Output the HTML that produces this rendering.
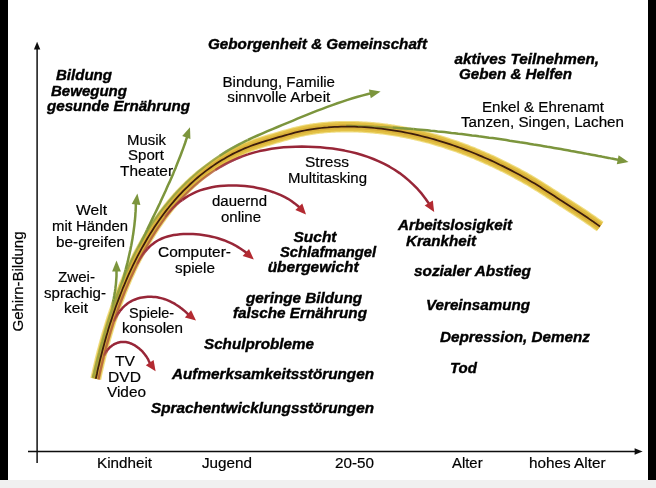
<!DOCTYPE html>
<html lang="de"><head><meta charset="utf-8"><title>Gehirn-Bildung</title>
<style>
html,body{margin:0;padding:0;background:#f0f0f0;}
body{width:656px;height:488px;overflow:hidden;position:relative;}
svg{position:absolute;left:0;top:0;display:block;}
text{font-family:"Liberation Sans",Arial,Helvetica,sans-serif;font-size:15.2px;fill:#000;stroke:#000;stroke-width:0.2px;}
.bi{font-weight:bold;font-style:italic;stroke-width:0.4px;}
</style></head><body>
<svg width="656" height="488" viewBox="0 0 656 488">
<rect x="0" y="0" width="656" height="480" fill="#000"/>
<rect x="8" y="0" width="640" height="480" fill="#fff"/>
<rect x="0" y="480" width="656" height="8" fill="#f0f0f0"/>
<defs><filter id="soft" x="0" y="0" width="656" height="488" filterUnits="userSpaceOnUse"><feGaussianBlur stdDeviation="0.45"/></filter></defs>
<g filter="url(#soft)">

<path d="M37.1,48 V463" stroke="#111" stroke-width="1.5" fill="none"/>
<path d="M37.1,41.8 L40.3,49.6 H33.9 z" fill="#111"/>
<path d="M28,451.5 H636" stroke="#111" stroke-width="1.5" fill="none"/>
<path d="M642.6,451.5 L634.6,448.3 V454.7 z" fill="#111"/>
<path d="M90.4,377.7 L91.1,374.4 L91.5,372.8 L91.8,371.2 L92.2,369.7 L92.5,368.1 L92.9,366.5 L93.2,364.9 L93.6,363.4 L94.0,361.8 L94.4,360.2 L94.7,358.6 L95.1,357.0 L95.5,355.4 L95.9,353.8 L96.3,352.2 L96.7,350.6 L97.1,349.0 L97.6,347.4 L98.0,345.8 L98.4,344.2 L98.9,342.5 L99.3,340.9 L99.8,339.3 L100.2,337.7 L100.7,336.1 L101.1,334.5 L101.6,332.8 L102.1,331.2 L102.6,329.6 L103.1,328.0 L103.6,326.3 L104.1,324.7 L104.6,323.1 L105.1,321.4 L105.6,319.8 L106.1,318.2 L106.6,316.6 L107.2,314.9 L107.7,313.3 L108.3,311.7 L108.8,310.1 L109.4,308.4 L110.0,306.8 L110.5,305.2 L111.1,303.5 L111.7,301.9 L112.3,300.3 L112.9,298.7 L113.5,297.1 L114.1,295.4 L114.7,293.8 L115.3,292.2 L116.0,290.6 L116.6,289.0 L117.3,287.4 L117.9,285.8 L118.6,284.1 L119.2,282.5 L119.9,280.9 L120.6,279.3 L121.3,277.7 L121.9,276.1 L122.6,274.5 L123.3,273.0 L124.1,271.4 L124.8,269.8 L125.5,268.2 L126.2,266.6 L127.0,265.1 L127.7,263.5 L128.5,261.9 L129.2,260.4 L130.0,258.8 L130.8,257.2 L131.6,255.7 L132.3,254.1 L133.1,252.6 L133.9,251.1 L134.7,249.5 L135.6,248.0 L136.4,246.5 L137.2,245.0 L138.1,243.4 L138.9,241.9 L139.8,240.4 L140.6,238.9 L141.5,237.4 L142.4,235.9 L143.3,234.5 L144.2,233.0 L145.1,231.5 L146.0,230.0 L146.9,228.6 L147.8,227.1 L148.7,225.7 L149.7,224.2 L150.6,222.8 L151.6,221.4 L152.5,220.0 L153.5,218.6 L154.5,217.1 L155.5,215.7 L156.5,214.4 L157.5,213.0 L158.5,211.6 L159.5,210.2 L160.5,208.9 L161.6,207.5 L162.6,206.2 L163.7,204.8 L164.7,203.5 L165.8,202.2 L166.9,200.8 L168.0,199.5 L169.1,198.2 L170.2,197.0 L171.3,195.7 L172.4,194.4 L173.5,193.1 L174.7,191.9 L175.8,190.6 L177.0,189.4 L178.1,188.2 L179.3,187.0 L180.5,185.8 L181.7,184.6 L182.9,183.4 L184.1,182.2 L185.3,181.0 L186.5,179.9 L187.8,178.7 L189.0,177.6 L190.2,176.5 L191.5,175.4 L192.8,174.3 L194.1,173.2 L195.4,172.1 L196.6,171.0 L198.0,170.0 L199.3,168.9 L200.6,167.9 L201.9,166.9 L203.3,165.9 L204.6,164.9 L206.0,163.9 L207.3,162.9 L208.7,161.9 L210.1,161.0 L211.5,160.0 L212.9,159.1 L214.3,158.2 L215.7,157.3 L217.1,156.4 L218.5,155.5 L220.0,154.7 L221.4,153.8 L222.8,153.0 L224.3,152.1 L225.7,151.3 L227.2,150.5 L228.7,149.7 L230.2,148.9 L231.6,148.2 L233.1,147.4 L234.6,146.7 L236.1,146.0 L237.7,145.3 L239.2,144.6 L240.7,143.9 L242.2,143.3 L243.7,142.6 L245.3,142.0 L246.8,141.4 L248.4,140.8 L249.9,140.2 L251.5,139.7 L253.1,139.1 L254.6,138.6 L256.2,138.1 L257.8,137.5 L259.4,137.0 L261.0,136.5 L262.5,136.0 L264.1,135.6 L265.7,135.1 L267.4,134.6 L269.0,134.1 L270.6,133.6 L272.2,133.2 L273.8,132.7 L275.4,132.2 L277.1,131.7 L278.7,131.3 L280.4,130.8 L282.0,130.3 L283.6,129.8 L285.3,129.4 L286.9,128.9 L288.6,128.4 L290.3,128.0 L291.9,127.6 L293.6,127.1 L295.2,126.7 L296.9,126.3 L298.6,125.9 L300.3,125.5 L301.9,125.2 L303.6,124.8 L305.3,124.5 L307.0,124.2 L308.7,123.9 L310.4,123.6 L312.0,123.4 L313.7,123.1 L315.4,122.9 L317.1,122.7 L318.8,122.5 L320.5,122.3 L322.2,122.1 L323.9,121.9 L325.6,121.8 L327.3,121.7 L329.0,121.5 L330.8,121.4 L332.5,121.3 L334.2,121.2 L335.9,121.1 L337.6,121.1 L339.3,121.0 L341.0,121.0 L342.7,120.9 L344.4,120.9 L346.1,120.9 L347.9,120.9 L349.6,120.9 L351.3,120.9 L353.0,121.0 L354.7,121.0 L356.4,121.1 L358.1,121.1 L359.8,121.2 L361.6,121.3 L363.3,121.4 L365.0,121.5 L366.7,121.6 L368.4,121.7 L370.1,121.8 L371.8,122.0 L373.5,122.1 L375.2,122.3 L376.9,122.4 L378.6,122.6 L380.3,122.8 L382.1,123.0 L383.8,123.2 L385.5,123.4 L387.2,123.6 L388.9,123.9 L390.6,124.1 L392.3,124.4 L394.0,124.6 L395.7,124.9 L397.4,125.2 L399.0,125.5 L400.7,125.7 L402.4,126.1 L404.1,126.4 L405.8,126.7 L407.5,127.0 L409.2,127.4 L410.9,127.7 L412.5,128.1 L414.2,128.4 L415.9,128.8 L417.6,129.2 L419.2,129.5 L420.9,129.9 L422.6,130.3 L424.2,130.8 L425.9,131.2 L427.6,131.6 L429.2,132.0 L430.9,132.5 L432.5,132.9 L434.2,133.4 L435.8,133.8 L437.5,134.3 L439.1,134.8 L440.8,135.3 L442.4,135.8 L444.1,136.3 L445.7,136.8 L447.3,137.3 L449.0,137.8 L450.6,138.4 L452.2,138.9 L453.8,139.4 L455.4,140.0 L457.1,140.6 L458.7,141.1 L460.3,141.7 L461.9,142.3 L463.5,142.8 L465.1,143.4 L466.7,144.0 L468.3,144.6 L469.8,145.3 L471.4,145.9 L473.0,146.5 L474.6,147.1 L476.1,147.8 L477.7,148.4 L479.3,149.0 L480.8,149.7 L482.4,150.4 L484.0,151.0 L485.5,151.7 L487.1,152.4 L488.6,153.1 L490.1,153.7 L491.7,154.4 L493.2,155.1 L494.7,155.8 L496.3,156.5 L497.8,157.3 L499.3,158.0 L500.8,158.7 L502.3,159.4 L503.8,160.2 L505.4,160.9 L506.9,161.7 L508.4,162.4 L509.9,163.2 L511.3,163.9 L512.8,164.7 L514.3,165.5 L515.8,166.2 L517.3,167.0 L518.8,167.8 L520.2,168.6 L521.7,169.4 L523.2,170.2 L524.7,171.0 L526.1,171.8 L527.6,172.6 L529.0,173.5 L530.5,174.3 L531.9,175.1 L533.4,176.0 L534.8,176.8 L536.3,177.7 L537.7,178.6 L539.1,179.4 L540.6,180.3 L542.0,181.2 L543.4,182.1 L544.8,183.0 L546.3,183.9 L547.7,184.8 L549.1,185.7 L550.5,186.6 L551.9,187.5 L553.3,188.4 L554.7,189.3 L556.1,190.2 L557.5,191.1 L558.9,192.0 L560.3,193.0 L561.7,193.9 L563.1,194.7 L564.5,195.6 L565.9,196.5 L567.2,197.4 L568.6,198.3 L570.0,199.2 L571.4,200.1 L572.7,200.9 L574.1,201.8 L575.5,202.7 L576.8,203.6 L578.2,204.4 L579.5,205.3 L580.9,206.2 L582.2,207.1 L583.6,208.0 L584.9,208.8 L586.3,209.7 L587.6,210.6 L588.9,211.5 L590.3,212.4 L591.6,213.4 L592.9,214.3 L594.3,215.2 L595.6,216.1 L596.9,217.0 L598.2,218.0 L599.6,218.9 L600.9,219.8 L602.2,220.8 L603.5,221.7 L596.6,231.3 L595.3,230.3 L594.0,229.4 L592.7,228.5 L591.4,227.6 L590.1,226.6 L588.8,225.7 L587.5,224.8 L586.1,223.9 L584.8,223.0 L583.5,222.1 L582.2,221.2 L580.9,220.3 L579.6,219.4 L578.2,218.5 L576.9,217.7 L575.6,216.8 L574.2,215.9 L572.9,215.0 L571.6,214.2 L570.2,213.3 L568.9,212.4 L567.5,211.6 L566.2,210.7 L564.9,209.8 L563.5,209.0 L562.2,208.1 L560.8,207.2 L559.4,206.4 L558.1,205.5 L556.7,204.6 L555.4,203.7 L554.0,202.8 L552.6,201.9 L551.3,201.1 L549.9,200.2 L548.5,199.3 L547.1,198.4 L545.7,197.5 L544.4,196.6 L543.0,195.7 L541.6,194.8 L540.2,193.9 L538.8,193.0 L537.4,192.1 L536.0,191.3 L534.6,190.4 L533.2,189.5 L531.8,188.7 L530.4,187.8 L529.0,187.0 L527.6,186.1 L526.2,185.3 L524.7,184.5 L523.3,183.7 L521.9,182.8 L520.5,182.0 L519.0,181.2 L517.6,180.5 L516.2,179.7 L514.7,178.9 L513.3,178.1 L511.8,177.3 L510.4,176.6 L508.9,175.8 L507.5,175.1 L506.0,174.3 L504.6,173.6 L503.1,172.8 L501.7,172.1 L500.2,171.4 L498.7,170.6 L497.2,169.9 L495.8,169.2 L494.3,168.5 L492.8,167.8 L491.3,167.1 L489.8,166.4 L488.4,165.7 L486.9,165.0 L485.4,164.4 L483.9,163.7 L482.4,163.0 L480.9,162.4 L479.4,161.7 L477.8,161.1 L476.3,160.4 L474.8,159.8 L473.3,159.1 L471.8,158.5 L470.2,157.9 L468.7,157.3 L467.2,156.7 L465.6,156.1 L464.1,155.5 L462.6,154.9 L461.0,154.3 L459.5,153.7 L457.9,153.2 L456.4,152.6 L454.8,152.1 L453.2,151.5 L451.7,151.0 L450.1,150.4 L448.5,149.9 L447.0,149.4 L445.4,148.9 L443.8,148.3 L442.2,147.8 L440.6,147.3 L439.1,146.9 L437.5,146.4 L435.9,145.9 L434.3,145.4 L432.7,145.0 L431.1,144.5 L429.5,144.1 L427.9,143.6 L426.3,143.2 L424.7,142.8 L423.1,142.4 L421.4,142.0 L419.8,141.6 L418.2,141.2 L416.6,140.8 L415.0,140.4 L413.4,140.1 L411.7,139.7 L410.1,139.3 L408.5,139.0 L406.9,138.7 L405.2,138.3 L403.6,138.0 L402.0,137.7 L400.4,137.4 L398.7,137.1 L397.1,136.8 L395.5,136.5 L393.8,136.3 L392.2,136.0 L390.5,135.8 L388.9,135.5 L387.3,135.3 L385.6,135.0 L384.0,134.8 L382.3,134.6 L380.7,134.4 L379.1,134.2 L377.4,134.1 L375.8,133.9 L374.1,133.7 L372.5,133.6 L370.8,133.4 L369.2,133.3 L367.6,133.2 L365.9,133.0 L364.3,132.9 L362.6,132.8 L361.0,132.7 L359.3,132.7 L357.7,132.6 L356.0,132.5 L354.4,132.5 L352.8,132.4 L351.1,132.4 L349.5,132.4 L347.8,132.4 L346.2,132.4 L344.5,132.4 L342.9,132.4 L341.3,132.4 L339.6,132.5 L338.0,132.5 L336.3,132.6 L334.7,132.7 L333.1,132.8 L331.4,132.8 L329.8,133.0 L328.2,133.1 L326.5,133.2 L324.9,133.3 L323.3,133.5 L321.6,133.7 L320.0,133.8 L318.4,134.0 L316.8,134.2 L315.1,134.5 L313.5,134.7 L311.9,135.0 L310.3,135.2 L308.7,135.5 L307.1,135.8 L305.5,136.1 L303.9,136.4 L302.3,136.8 L300.7,137.1 L299.1,137.5 L297.5,137.9 L295.9,138.3 L294.3,138.7 L292.7,139.1 L291.1,139.6 L289.5,140.0 L287.9,140.4 L286.4,140.9 L284.8,141.3 L283.2,141.8 L281.7,142.2 L280.1,142.7 L278.6,143.2 L277.0,143.6 L275.5,144.1 L273.9,144.5 L272.4,145.0 L270.8,145.4 L269.3,145.9 L267.8,146.3 L266.3,146.8 L264.7,147.3 L263.2,147.7 L261.7,148.2 L260.2,148.7 L258.7,149.2 L257.2,149.7 L255.7,150.2 L254.2,150.7 L252.8,151.3 L251.3,151.8 L249.8,152.4 L248.4,153.0 L246.9,153.6 L245.5,154.2 L244.0,154.8 L242.6,155.5 L241.1,156.2 L239.7,156.8 L238.3,157.5 L236.9,158.2 L235.5,158.9 L234.1,159.7 L232.7,160.4 L231.3,161.2 L229.9,162.0 L228.5,162.7 L227.2,163.5 L225.8,164.3 L224.4,165.2 L223.1,166.0 L221.8,166.8 L220.4,167.7 L219.1,168.5 L217.8,169.4 L216.5,170.3 L215.2,171.2 L213.9,172.1 L212.6,173.0 L211.3,174.0 L210.0,174.9 L208.8,175.9 L207.5,176.8 L206.2,177.8 L205.0,178.8 L203.8,179.8 L202.5,180.8 L201.3,181.8 L200.1,182.8 L198.9,183.9 L197.7,184.9 L196.5,186.0 L195.4,187.0 L194.2,188.1 L193.0,189.2 L191.9,190.3 L190.7,191.4 L189.6,192.5 L188.5,193.7 L187.4,194.8 L186.2,196.0 L185.1,197.1 L184.0,198.3 L182.9,199.5 L181.9,200.7 L180.8,201.9 L179.7,203.1 L178.7,204.3 L177.6,205.5 L176.6,206.8 L175.5,208.0 L174.5,209.3 L173.5,210.5 L172.5,211.8 L171.5,213.1 L170.5,214.4 L169.5,215.6 L168.5,216.9 L167.5,218.3 L166.5,219.6 L165.6,220.9 L164.6,222.2 L163.7,223.6 L162.7,224.9 L161.8,226.3 L160.9,227.6 L159.9,229.0 L159.0,230.4 L158.1,231.8 L157.2,233.2 L156.3,234.6 L155.4,236.0 L154.6,237.4 L153.7,238.8 L152.8,240.2 L152.0,241.7 L151.1,243.1 L150.3,244.5 L149.5,246.0 L148.6,247.4 L147.8,248.9 L147.0,250.3 L146.2,251.8 L145.4,253.3 L144.6,254.8 L143.8,256.3 L143.0,257.7 L142.3,259.2 L141.5,260.7 L140.7,262.2 L140.0,263.7 L139.2,265.3 L138.5,266.8 L137.8,268.3 L137.0,269.8 L136.3,271.3 L135.6,272.9 L134.9,274.4 L134.2,276.0 L133.5,277.5 L132.8,279.0 L132.1,280.6 L131.5,282.1 L130.8,283.7 L130.1,285.3 L129.5,286.8 L128.8,288.4 L128.2,289.9 L127.6,291.5 L126.9,293.1 L126.3,294.7 L125.7,296.2 L125.1,297.8 L124.5,299.4 L123.9,301.0 L123.3,302.5 L122.7,304.1 L122.1,305.7 L121.5,307.3 L121.0,308.9 L120.4,310.5 L119.9,312.1 L119.3,313.7 L118.8,315.2 L118.2,316.8 L117.7,318.4 L117.2,320.0 L116.6,321.6 L116.1,323.2 L115.6,324.8 L115.1,326.4 L114.6,328.0 L114.1,329.6 L113.6,331.2 L113.2,332.8 L112.7,334.3 L112.2,335.9 L111.8,337.5 L111.3,339.1 L110.8,340.7 L110.4,342.3 L110.0,343.9 L109.5,345.5 L109.1,347.0 L108.7,348.6 L108.2,350.2 L107.8,351.8 L107.4,353.4 L107.0,354.9 L106.6,356.5 L106.2,358.1 L105.8,359.6 L105.5,361.2 L105.1,362.8 L104.7,364.3 L104.3,365.9 L104.0,367.4 L103.6,369.0 L103.3,370.5 L102.9,372.1 L102.6,373.6 L102.2,375.1 L101.9,376.7 L101.2,380.0 Z" fill="#f0de84"/>
<path d="M91.5,377.9 L92.2,374.6 L92.6,373.0 L92.9,371.5 L93.2,369.9 L93.6,368.3 L94.0,366.8 L94.3,365.2 L94.7,363.6 L95.0,362.0 L95.4,360.4 L95.8,358.9 L96.2,357.3 L96.6,355.7 L97.0,354.1 L97.4,352.5 L97.8,350.9 L98.2,349.3 L98.6,347.7 L99.1,346.1 L99.5,344.4 L99.9,342.8 L100.4,341.2 L100.8,339.6 L101.3,338.0 L101.7,336.4 L102.2,334.8 L102.7,333.1 L103.1,331.5 L103.6,329.9 L104.1,328.3 L104.6,326.7 L105.1,325.0 L105.6,323.4 L106.1,321.8 L106.6,320.2 L107.2,318.5 L107.7,316.9 L108.2,315.3 L108.8,313.7 L109.3,312.0 L109.9,310.4 L110.4,308.8 L111.0,307.2 L111.6,305.5 L112.1,303.9 L112.7,302.3 L113.3,300.7 L113.9,299.1 L114.5,297.4 L115.1,295.8 L115.7,294.2 L116.4,292.6 L117.0,291.0 L117.6,289.4 L118.3,287.8 L118.9,286.2 L119.6,284.6 L120.2,283.0 L120.9,281.4 L121.6,279.8 L122.3,278.2 L123.0,276.6 L123.6,275.0 L124.3,273.4 L125.1,271.8 L125.8,270.2 L126.5,268.7 L127.2,267.1 L128.0,265.5 L128.7,264.0 L129.5,262.4 L130.2,260.8 L131.0,259.3 L131.8,257.7 L132.5,256.2 L133.3,254.6 L134.1,253.1 L134.9,251.6 L135.7,250.0 L136.5,248.5 L137.4,247.0 L138.2,245.5 L139.0,244.0 L139.9,242.5 L140.7,241.0 L141.6,239.5 L142.4,238.0 L143.3,236.5 L144.2,235.0 L145.1,233.6 L146.0,232.1 L146.9,230.6 L147.8,229.2 L148.7,227.7 L149.7,226.3 L150.6,224.9 L151.5,223.4 L152.5,222.0 L153.4,220.6 L154.4,219.2 L155.4,217.8 L156.4,216.4 L157.4,215.0 L158.4,213.6 L159.4,212.2 L160.4,210.9 L161.4,209.5 L162.4,208.2 L163.5,206.8 L164.5,205.5 L165.6,204.2 L166.6,202.9 L167.7,201.6 L168.8,200.2 L169.9,199.0 L171.0,197.7 L172.1,196.4 L173.2,195.1 L174.3,193.9 L175.5,192.6 L176.6,191.4 L177.8,190.2 L178.9,188.9 L180.1,187.7 L181.3,186.5 L182.4,185.3 L183.6,184.2 L184.8,183.0 L186.0,181.8 L187.3,180.7 L188.5,179.6 L189.7,178.4 L191.0,177.3 L192.2,176.2 L193.5,175.1 L194.8,174.0 L196.1,172.9 L197.3,171.9 L198.6,170.8 L200.0,169.8 L201.3,168.8 L202.6,167.7 L203.9,166.7 L205.3,165.8 L206.6,164.8 L208.0,163.8 L209.3,162.8 L210.7,161.9 L212.1,161.0 L213.5,160.0 L214.9,159.1 L216.3,158.2 L217.7,157.3 L219.1,156.5 L220.5,155.6 L222.0,154.7 L223.4,153.9 L224.8,153.1 L226.3,152.3 L227.7,151.5 L229.2,150.7 L230.7,149.9 L232.2,149.2 L233.6,148.4 L235.1,147.7 L236.6,147.0 L238.1,146.3 L239.6,145.6 L241.1,144.9 L242.7,144.3 L244.2,143.6 L245.7,143.0 L247.3,142.4 L248.8,141.8 L250.3,141.3 L251.9,140.7 L253.5,140.1 L255.0,139.6 L256.6,139.1 L258.2,138.6 L259.7,138.1 L261.3,137.6 L262.9,137.1 L264.5,136.6 L266.1,136.1 L267.7,135.6 L269.3,135.2 L270.9,134.7 L272.5,134.2 L274.1,133.7 L275.7,133.3 L277.4,132.8 L279.0,132.3 L280.6,131.8 L282.3,131.4 L283.9,130.9 L285.5,130.4 L287.2,130.0 L288.8,129.5 L290.5,129.1 L292.1,128.6 L293.8,128.2 L295.5,127.8 L297.1,127.4 L298.8,127.0 L300.5,126.6 L302.1,126.3 L303.8,125.9 L305.5,125.6 L307.1,125.3 L308.8,125.0 L310.5,124.7 L312.2,124.5 L313.9,124.2 L315.6,124.0 L317.3,123.8 L318.9,123.6 L320.6,123.4 L322.3,123.2 L324.0,123.0 L325.7,122.9 L327.4,122.8 L329.1,122.6 L330.8,122.5 L332.5,122.4 L334.2,122.3 L335.9,122.2 L337.6,122.2 L339.3,122.1 L341.0,122.1 L342.7,122.0 L344.4,122.0 L346.1,122.0 L347.9,122.0 L349.6,122.0 L351.3,122.0 L353.0,122.1 L354.7,122.1 L356.4,122.2 L358.1,122.2 L359.8,122.3 L361.5,122.4 L363.2,122.5 L364.9,122.6 L366.6,122.7 L368.3,122.8 L370.0,122.9 L371.7,123.1 L373.4,123.2 L375.1,123.4 L376.8,123.5 L378.5,123.7 L380.2,123.9 L381.9,124.1 L383.6,124.3 L385.3,124.5 L387.0,124.7 L388.7,125.0 L390.4,125.2 L392.1,125.5 L393.8,125.7 L395.5,126.0 L397.2,126.3 L398.9,126.5 L400.5,126.8 L402.2,127.1 L403.9,127.4 L405.6,127.8 L407.3,128.1 L409.0,128.4 L410.6,128.8 L412.3,129.1 L414.0,129.5 L415.7,129.9 L417.3,130.2 L419.0,130.6 L420.7,131.0 L422.3,131.4 L424.0,131.8 L425.6,132.2 L427.3,132.7 L429.0,133.1 L430.6,133.5 L432.3,134.0 L433.9,134.4 L435.5,134.9 L437.2,135.4 L438.8,135.9 L440.5,136.3 L442.1,136.8 L443.7,137.3 L445.4,137.8 L447.0,138.4 L448.6,138.9 L450.2,139.4 L451.9,139.9 L453.5,140.5 L455.1,141.0 L456.7,141.6 L458.3,142.2 L459.9,142.7 L461.5,143.3 L463.1,143.9 L464.7,144.5 L466.3,145.1 L467.9,145.7 L469.4,146.3 L471.0,146.9 L472.6,147.5 L474.2,148.1 L475.7,148.8 L477.3,149.4 L478.9,150.1 L480.4,150.7 L482.0,151.4 L483.5,152.0 L485.1,152.7 L486.6,153.4 L488.1,154.1 L489.7,154.7 L491.2,155.4 L492.7,156.1 L494.3,156.8 L495.8,157.5 L497.3,158.3 L498.8,159.0 L500.3,159.7 L501.9,160.4 L503.4,161.2 L504.9,161.9 L506.4,162.6 L507.9,163.4 L509.4,164.1 L510.8,164.9 L512.3,165.7 L513.8,166.4 L515.3,167.2 L516.8,168.0 L518.3,168.8 L519.7,169.6 L521.2,170.4 L522.7,171.2 L524.1,172.0 L525.6,172.8 L527.0,173.6 L528.5,174.4 L529.9,175.2 L531.4,176.1 L532.8,176.9 L534.3,177.8 L535.7,178.6 L537.1,179.5 L538.6,180.4 L540.0,181.3 L541.4,182.1 L542.9,183.0 L544.3,183.9 L545.7,184.8 L547.1,185.7 L548.5,186.6 L549.9,187.5 L551.3,188.4 L552.7,189.3 L554.1,190.3 L555.5,191.2 L556.9,192.1 L558.3,193.0 L559.7,193.9 L561.1,194.8 L562.5,195.7 L563.9,196.6 L565.3,197.4 L566.6,198.3 L568.0,199.2 L569.4,200.1 L570.8,201.0 L572.1,201.8 L573.5,202.7 L574.8,203.6 L576.2,204.5 L577.6,205.3 L578.9,206.2 L580.3,207.1 L581.6,208.0 L583.0,208.9 L584.3,209.8 L585.6,210.6 L587.0,211.5 L588.3,212.4 L589.6,213.3 L591.0,214.3 L592.3,215.2 L593.6,216.1 L595.0,217.0 L596.3,217.9 L597.6,218.9 L598.9,219.8 L600.2,220.7 L601.5,221.7 L602.9,222.6 L597.2,230.4 L595.9,229.4 L594.6,228.5 L593.3,227.6 L592.0,226.7 L590.7,225.7 L589.4,224.8 L588.1,223.9 L586.8,223.0 L585.5,222.1 L584.1,221.2 L582.8,220.3 L581.5,219.4 L580.2,218.5 L578.9,217.6 L577.5,216.7 L576.2,215.9 L574.9,215.0 L573.5,214.1 L572.2,213.3 L570.8,212.4 L569.5,211.5 L568.2,210.7 L566.8,209.8 L565.5,208.9 L564.1,208.1 L562.8,207.2 L561.4,206.3 L560.0,205.4 L558.7,204.6 L557.3,203.7 L556.0,202.8 L554.6,201.9 L553.2,201.0 L551.8,200.1 L550.5,199.2 L549.1,198.3 L547.7,197.4 L546.3,196.5 L544.9,195.6 L543.6,194.7 L542.2,193.8 L540.8,193.0 L539.4,192.1 L538.0,191.2 L536.6,190.3 L535.2,189.4 L533.8,188.6 L532.4,187.7 L530.9,186.9 L529.5,186.0 L528.1,185.2 L526.7,184.3 L525.3,183.5 L523.8,182.7 L522.4,181.9 L521.0,181.1 L519.6,180.3 L518.1,179.5 L516.7,178.7 L515.2,177.9 L513.8,177.1 L512.4,176.4 L510.9,175.6 L509.5,174.8 L508.0,174.1 L506.5,173.3 L505.1,172.6 L503.6,171.8 L502.1,171.1 L500.7,170.4 L499.2,169.7 L497.7,168.9 L496.2,168.2 L494.8,167.5 L493.3,166.8 L491.8,166.1 L490.3,165.4 L488.8,164.7 L487.3,164.0 L485.8,163.4 L484.3,162.7 L482.8,162.0 L481.3,161.3 L479.8,160.7 L478.3,160.0 L476.8,159.4 L475.2,158.8 L473.7,158.1 L472.2,157.5 L470.6,156.9 L469.1,156.3 L467.6,155.7 L466.0,155.1 L464.5,154.5 L462.9,153.9 L461.4,153.3 L459.8,152.7 L458.3,152.1 L456.7,151.6 L455.2,151.0 L453.6,150.5 L452.0,149.9 L450.5,149.4 L448.9,148.9 L447.3,148.3 L445.7,147.8 L444.1,147.3 L442.6,146.8 L441.0,146.3 L439.4,145.8 L437.8,145.3 L436.2,144.9 L434.6,144.4 L433.0,143.9 L431.4,143.5 L429.8,143.0 L428.2,142.6 L426.6,142.2 L424.9,141.7 L423.3,141.3 L421.7,140.9 L420.1,140.5 L418.5,140.1 L416.9,139.7 L415.2,139.3 L413.6,139.0 L412.0,138.6 L410.4,138.3 L408.7,137.9 L407.1,137.6 L405.5,137.3 L403.8,136.9 L402.2,136.6 L400.6,136.3 L398.9,136.0 L397.3,135.7 L395.6,135.5 L394.0,135.2 L392.4,134.9 L390.7,134.7 L389.1,134.4 L387.4,134.2 L385.8,134.0 L384.1,133.7 L382.5,133.5 L380.8,133.3 L379.2,133.1 L377.5,133.0 L375.9,132.8 L374.2,132.6 L372.6,132.5 L370.9,132.3 L369.3,132.2 L367.6,132.1 L366.0,131.9 L364.3,131.8 L362.7,131.7 L361.0,131.6 L359.4,131.6 L357.7,131.5 L356.1,131.4 L354.4,131.4 L352.8,131.3 L351.1,131.3 L349.5,131.3 L347.8,131.3 L346.2,131.3 L344.5,131.3 L342.9,131.3 L341.2,131.3 L339.6,131.4 L337.9,131.4 L336.3,131.5 L334.7,131.6 L333.0,131.7 L331.4,131.7 L329.7,131.9 L328.1,132.0 L326.4,132.1 L324.8,132.2 L323.2,132.4 L321.5,132.6 L319.9,132.7 L318.3,132.9 L316.6,133.1 L315.0,133.4 L313.4,133.6 L311.8,133.9 L310.1,134.1 L308.5,134.4 L306.9,134.7 L305.3,135.0 L303.7,135.4 L302.1,135.7 L300.5,136.1 L298.8,136.4 L297.2,136.8 L295.6,137.2 L294.0,137.6 L292.5,138.1 L290.9,138.5 L289.3,138.9 L287.7,139.4 L286.1,139.8 L284.5,140.3 L283.0,140.7 L281.4,141.2 L279.8,141.6 L278.3,142.1 L276.7,142.6 L275.1,143.0 L273.6,143.5 L272.0,143.9 L270.5,144.4 L269.0,144.8 L267.4,145.3 L265.9,145.7 L264.4,146.2 L262.8,146.7 L261.3,147.2 L259.8,147.7 L258.3,148.2 L256.8,148.7 L255.3,149.2 L253.8,149.7 L252.3,150.3 L250.9,150.8 L249.4,151.4 L247.9,152.0 L246.5,152.6 L245.0,153.2 L243.5,153.9 L242.1,154.5 L240.7,155.2 L239.2,155.8 L237.8,156.5 L236.4,157.3 L235.0,158.0 L233.5,158.7 L232.1,159.5 L230.7,160.2 L229.4,161.0 L228.0,161.8 L226.6,162.6 L225.2,163.4 L223.9,164.2 L222.5,165.1 L221.2,165.9 L219.8,166.8 L218.5,167.6 L217.2,168.5 L215.8,169.4 L214.5,170.3 L213.2,171.2 L211.9,172.1 L210.6,173.1 L209.4,174.0 L208.1,175.0 L206.8,176.0 L205.6,176.9 L204.3,177.9 L203.1,178.9 L201.8,179.9 L200.6,181.0 L199.4,182.0 L198.2,183.0 L197.0,184.1 L195.8,185.1 L194.6,186.2 L193.5,187.3 L192.3,188.4 L191.1,189.5 L190.0,190.6 L188.8,191.8 L187.7,192.9 L186.6,194.0 L185.4,195.2 L184.3,196.4 L183.2,197.6 L182.1,198.7 L181.0,199.9 L180.0,201.1 L178.9,202.4 L177.8,203.6 L176.8,204.8 L175.7,206.1 L174.7,207.3 L173.6,208.6 L172.6,209.8 L171.6,211.1 L170.6,212.4 L169.6,213.7 L168.6,215.0 L167.6,216.3 L166.6,217.6 L165.6,218.9 L164.7,220.3 L163.7,221.6 L162.8,222.9 L161.8,224.3 L160.9,225.7 L159.9,227.0 L159.0,228.4 L158.1,229.8 L157.2,231.2 L156.3,232.6 L155.4,234.0 L154.5,235.4 L153.6,236.8 L152.8,238.2 L151.9,239.7 L151.0,241.1 L150.2,242.5 L149.3,244.0 L148.5,245.4 L147.7,246.9 L146.9,248.3 L146.0,249.8 L145.2,251.3 L144.4,252.8 L143.6,254.3 L142.8,255.7 L142.1,257.2 L141.3,258.7 L140.5,260.2 L139.8,261.7 L139.0,263.3 L138.2,264.8 L137.5,266.3 L136.8,267.8 L136.0,269.3 L135.3,270.9 L134.6,272.4 L133.9,274.0 L133.2,275.5 L132.5,277.0 L131.8,278.6 L131.1,280.1 L130.5,281.7 L129.8,283.3 L129.1,284.8 L128.5,286.4 L127.8,288.0 L127.2,289.5 L126.5,291.1 L125.9,292.7 L125.3,294.2 L124.7,295.8 L124.1,297.4 L123.4,299.0 L122.8,300.6 L122.3,302.2 L121.7,303.7 L121.1,305.3 L120.5,306.9 L119.9,308.5 L119.4,310.1 L118.8,311.7 L118.3,313.3 L117.7,314.9 L117.2,316.5 L116.6,318.1 L116.1,319.7 L115.6,321.3 L115.1,322.9 L114.6,324.5 L114.1,326.1 L113.6,327.7 L113.1,329.3 L112.6,330.8 L112.1,332.4 L111.6,334.0 L111.2,335.6 L110.7,337.2 L110.2,338.8 L109.8,340.4 L109.3,342.0 L108.9,343.6 L108.5,345.2 L108.0,346.8 L107.6,348.3 L107.2,349.9 L106.8,351.5 L106.4,353.1 L105.9,354.7 L105.5,356.2 L105.2,357.8 L104.8,359.4 L104.4,360.9 L104.0,362.5 L103.6,364.1 L103.3,365.6 L102.9,367.2 L102.5,368.7 L102.2,370.3 L101.8,371.8 L101.5,373.4 L101.2,374.9 L100.8,376.4 L100.1,379.7 Z" fill="#e3c144"/>
<path d="M93.6,378.3 L94.3,375.0 L94.7,373.5 L95.0,371.9 L95.3,370.4 L95.7,368.8 L96.0,367.2 L96.4,365.7 L96.8,364.1 L97.1,362.5 L97.5,360.9 L97.9,359.4 L98.3,357.8 L98.7,356.2 L99.1,354.6 L99.5,353.0 L99.9,351.4 L100.3,349.8 L100.7,348.2 L101.1,346.6 L101.6,345.0 L102.0,343.4 L102.4,341.8 L102.9,340.2 L103.3,338.6 L103.8,337.0 L104.3,335.4 L104.7,333.7 L105.2,332.1 L105.7,330.5 L106.2,328.9 L106.7,327.3 L107.1,325.7 L107.7,324.0 L108.2,322.4 L108.7,320.8 L109.2,319.2 L109.7,317.6 L110.3,316.0 L110.8,314.3 L111.3,312.7 L111.9,311.1 L112.4,309.5 L113.0,307.9 L113.6,306.3 L114.2,304.6 L114.7,303.0 L115.3,301.4 L115.9,299.8 L116.5,298.2 L117.1,296.6 L117.7,295.0 L118.4,293.4 L119.0,291.8 L119.6,290.2 L120.3,288.6 L120.9,287.0 L121.6,285.4 L122.2,283.8 L122.9,282.2 L123.5,280.6 L124.2,279.0 L124.9,277.4 L125.6,275.9 L126.3,274.3 L127.0,272.7 L127.7,271.1 L128.4,269.6 L129.2,268.0 L129.9,266.4 L130.6,264.9 L131.4,263.3 L132.1,261.8 L132.9,260.2 L133.7,258.7 L134.4,257.2 L135.2,255.6 L136.0,254.1 L136.8,252.6 L137.6,251.0 L138.4,249.5 L139.2,248.0 L140.1,246.5 L140.9,245.0 L141.7,243.5 L142.6,242.0 L143.4,240.5 L144.3,239.1 L145.2,237.6 L146.0,236.1 L146.9,234.7 L147.8,233.2 L148.7,231.8 L149.6,230.3 L150.5,228.9 L151.4,227.4 L152.4,226.0 L153.3,224.6 L154.2,223.2 L155.2,221.8 L156.2,220.4 L157.1,219.0 L158.1,217.6 L159.1,216.2 L160.1,214.9 L161.1,213.5 L162.1,212.2 L163.1,210.8 L164.1,209.5 L165.2,208.1 L166.2,206.8 L167.2,205.5 L168.3,204.2 L169.4,202.9 L170.4,201.6 L171.5,200.3 L172.6,199.1 L173.7,197.8 L174.8,196.5 L175.9,195.3 L177.0,194.1 L178.2,192.8 L179.3,191.6 L180.4,190.4 L181.6,189.2 L182.8,188.0 L183.9,186.9 L185.1,185.7 L186.3,184.5 L187.5,183.4 L188.7,182.2 L189.9,181.1 L191.2,180.0 L192.4,178.9 L193.6,177.8 L194.9,176.7 L196.1,175.6 L197.4,174.6 L198.7,173.5 L200.0,172.5 L201.3,171.5 L202.6,170.4 L203.9,169.4 L205.2,168.4 L206.5,167.5 L207.9,166.5 L209.2,165.5 L210.5,164.6 L211.9,163.6 L213.3,162.7 L214.6,161.8 L216.0,160.9 L217.4,160.0 L218.8,159.1 L220.2,158.3 L221.6,157.4 L223.0,156.6 L224.5,155.7 L225.9,154.9 L227.3,154.1 L228.8,153.3 L230.2,152.5 L231.7,151.8 L233.1,151.0 L234.6,150.3 L236.1,149.6 L237.6,148.9 L239.0,148.2 L240.5,147.5 L242.0,146.8 L243.5,146.2 L245.1,145.6 L246.6,145.0 L248.1,144.4 L249.6,143.8 L251.2,143.2 L252.7,142.6 L254.2,142.1 L255.8,141.6 L257.3,141.1 L258.9,140.6 L260.5,140.1 L262.0,139.6 L263.6,139.1 L265.2,138.6 L266.7,138.1 L268.3,137.6 L269.9,137.2 L271.5,136.7 L273.1,136.2 L274.7,135.8 L276.3,135.3 L277.9,134.8 L279.5,134.3 L281.2,133.9 L282.8,133.4 L284.4,132.9 L286.0,132.5 L287.7,132.0 L289.3,131.6 L290.9,131.1 L292.6,130.7 L294.2,130.3 L295.9,129.9 L297.5,129.5 L299.2,129.1 L300.8,128.7 L302.5,128.3 L304.1,128.0 L305.8,127.7 L307.5,127.4 L309.1,127.1 L310.8,126.8 L312.5,126.5 L314.1,126.3 L315.8,126.1 L317.5,125.8 L319.2,125.6 L320.8,125.5 L322.5,125.3 L324.2,125.1 L325.9,125.0 L327.6,124.8 L329.3,124.7 L330.9,124.6 L332.6,124.5 L334.3,124.4 L336.0,124.3 L337.7,124.3 L339.4,124.2 L341.1,124.2 L342.8,124.1 L344.5,124.1 L346.2,124.1 L347.8,124.1 L349.5,124.1 L351.2,124.1 L352.9,124.2 L354.6,124.2 L356.3,124.2 L358.0,124.3 L359.7,124.4 L361.4,124.5 L363.1,124.5 L364.8,124.6 L366.5,124.8 L368.2,124.9 L369.9,125.0 L371.5,125.1 L373.2,125.3 L374.9,125.4 L376.6,125.6 L378.3,125.8 L380.0,126.0 L381.7,126.2 L383.4,126.4 L385.1,126.6 L386.7,126.8 L388.4,127.0 L390.1,127.3 L391.8,127.5 L393.5,127.8 L395.1,128.0 L396.8,128.3 L398.5,128.6 L400.2,128.9 L401.9,129.2 L403.5,129.5 L405.2,129.8 L406.9,130.1 L408.5,130.5 L410.2,130.8 L411.9,131.2 L413.5,131.5 L415.2,131.9 L416.9,132.3 L418.5,132.6 L420.2,133.0 L421.8,133.4 L423.5,133.8 L425.1,134.3 L426.8,134.7 L428.4,135.1 L430.1,135.5 L431.7,136.0 L433.3,136.4 L435.0,136.9 L436.6,137.4 L438.2,137.9 L439.9,138.3 L441.5,138.8 L443.1,139.3 L444.7,139.8 L446.4,140.3 L448.0,140.9 L449.6,141.4 L451.2,141.9 L452.8,142.5 L454.4,143.0 L456.0,143.5 L457.6,144.1 L459.2,144.7 L460.8,145.2 L462.4,145.8 L464.0,146.4 L465.5,147.0 L467.1,147.6 L468.7,148.2 L470.3,148.8 L471.8,149.4 L473.4,150.1 L475.0,150.7 L476.5,151.3 L478.1,152.0 L479.6,152.6 L481.2,153.3 L482.7,153.9 L484.2,154.6 L485.8,155.3 L487.3,155.9 L488.8,156.6 L490.4,157.3 L491.9,158.0 L493.4,158.7 L494.9,159.4 L496.4,160.1 L497.9,160.8 L499.5,161.6 L501.0,162.3 L502.5,163.0 L504.0,163.7 L505.4,164.5 L506.9,165.2 L508.4,166.0 L509.9,166.7 L511.4,167.5 L512.9,168.3 L514.3,169.0 L515.8,169.8 L517.3,170.6 L518.7,171.4 L520.2,172.2 L521.7,173.0 L523.1,173.8 L524.6,174.6 L526.0,175.4 L527.5,176.2 L528.9,177.0 L530.4,177.9 L531.8,178.7 L533.2,179.6 L534.7,180.4 L536.1,181.3 L537.5,182.2 L539.0,183.0 L540.4,183.9 L541.8,184.8 L543.2,185.7 L544.6,186.6 L546.0,187.5 L547.5,188.4 L548.9,189.3 L550.3,190.2 L551.7,191.1 L553.1,192.0 L554.4,192.9 L555.8,193.8 L557.2,194.7 L558.6,195.6 L560.0,196.5 L561.4,197.4 L562.8,198.3 L564.1,199.2 L565.5,200.1 L566.9,200.9 L568.2,201.8 L569.6,202.7 L571.0,203.6 L572.3,204.4 L573.7,205.3 L575.0,206.2 L576.4,207.0 L577.8,207.9 L579.1,208.8 L580.4,209.7 L581.8,210.6 L583.1,211.4 L584.5,212.3 L585.8,213.2 L587.1,214.1 L588.5,215.0 L589.8,215.9 L591.1,216.8 L592.5,217.8 L593.8,218.7 L595.1,219.6 L596.4,220.5 L597.7,221.5 L599.0,222.4 L600.3,223.3 L601.7,224.3 L598.4,228.7 L597.1,227.8 L595.8,226.9 L594.5,225.9 L593.2,225.0 L591.9,224.1 L590.6,223.2 L589.3,222.2 L588.0,221.3 L586.6,220.4 L585.3,219.5 L584.0,218.6 L582.7,217.7 L581.4,216.8 L580.0,215.9 L578.7,215.1 L577.4,214.2 L576.0,213.3 L574.7,212.4 L573.3,211.6 L572.0,210.7 L570.7,209.8 L569.3,208.9 L568.0,208.1 L566.6,207.2 L565.2,206.3 L563.9,205.5 L562.5,204.6 L561.2,203.7 L559.8,202.8 L558.4,202.0 L557.1,201.1 L555.7,200.2 L554.3,199.3 L552.9,198.4 L551.6,197.5 L550.2,196.6 L548.8,195.7 L547.4,194.8 L546.0,193.9 L544.6,193.0 L543.2,192.1 L541.8,191.2 L540.4,190.3 L539.0,189.4 L537.6,188.5 L536.2,187.7 L534.8,186.8 L533.4,185.9 L532.0,185.1 L530.6,184.2 L529.1,183.4 L527.7,182.5 L526.3,181.7 L524.9,180.9 L523.4,180.1 L522.0,179.3 L520.6,178.5 L519.1,177.7 L517.7,176.9 L516.2,176.1 L514.8,175.3 L513.3,174.5 L511.9,173.8 L510.4,173.0 L508.9,172.2 L507.5,171.5 L506.0,170.7 L504.5,170.0 L503.1,169.3 L501.6,168.5 L500.1,167.8 L498.6,167.1 L497.1,166.3 L495.7,165.6 L494.2,164.9 L492.7,164.2 L491.2,163.5 L489.7,162.8 L488.2,162.1 L486.7,161.5 L485.2,160.8 L483.6,160.1 L482.1,159.5 L480.6,158.8 L479.1,158.1 L477.6,157.5 L476.0,156.8 L474.5,156.2 L473.0,155.6 L471.4,155.0 L469.9,154.3 L468.3,153.7 L466.8,153.1 L465.2,152.5 L463.7,151.9 L462.1,151.3 L460.6,150.8 L459.0,150.2 L457.4,149.6 L455.9,149.1 L454.3,148.5 L452.7,148.0 L451.1,147.4 L449.5,146.9 L448.0,146.4 L446.4,145.8 L444.8,145.3 L443.2,144.8 L441.6,144.3 L440.0,143.8 L438.4,143.3 L436.8,142.9 L435.2,142.4 L433.6,141.9 L431.9,141.5 L430.3,141.0 L428.7,140.6 L427.1,140.1 L425.5,139.7 L423.8,139.3 L422.2,138.9 L420.6,138.5 L419.0,138.1 L417.3,137.7 L415.7,137.3 L414.1,136.9 L412.4,136.6 L410.8,136.2 L409.1,135.9 L407.5,135.5 L405.9,135.2 L404.2,134.9 L402.6,134.6 L400.9,134.3 L399.3,134.0 L397.6,133.7 L396.0,133.4 L394.3,133.1 L392.7,132.9 L391.0,132.6 L389.4,132.4 L387.7,132.1 L386.1,131.9 L384.4,131.7 L382.7,131.5 L381.1,131.3 L379.4,131.1 L377.8,130.9 L376.1,130.7 L374.4,130.5 L372.8,130.4 L371.1,130.2 L369.4,130.1 L367.8,130.0 L366.1,129.9 L364.5,129.7 L362.8,129.6 L361.1,129.6 L359.5,129.5 L357.8,129.4 L356.1,129.3 L354.5,129.3 L352.8,129.3 L351.2,129.2 L349.5,129.2 L347.8,129.2 L346.2,129.2 L344.5,129.2 L342.8,129.2 L341.2,129.2 L339.5,129.3 L337.9,129.3 L336.2,129.4 L334.6,129.5 L332.9,129.6 L331.2,129.7 L329.6,129.8 L327.9,129.9 L326.3,130.0 L324.6,130.2 L323.0,130.3 L321.3,130.5 L319.7,130.7 L318.0,130.9 L316.4,131.1 L314.8,131.3 L313.1,131.5 L311.5,131.8 L309.8,132.1 L308.2,132.3 L306.6,132.6 L304.9,133.0 L303.3,133.3 L301.7,133.6 L300.1,134.0 L298.5,134.4 L296.8,134.8 L295.2,135.2 L293.6,135.6 L292.0,136.0 L290.4,136.4 L288.8,136.9 L287.2,137.3 L285.6,137.8 L284.0,138.2 L282.4,138.7 L280.8,139.2 L279.3,139.6 L277.7,140.1 L276.1,140.5 L274.5,141.0 L273.0,141.5 L271.4,141.9 L269.9,142.4 L268.3,142.8 L266.8,143.3 L265.2,143.8 L263.7,144.2 L262.1,144.7 L260.6,145.2 L259.1,145.7 L257.6,146.2 L256.0,146.7 L254.5,147.2 L253.0,147.8 L251.5,148.3 L250.0,148.9 L248.5,149.5 L247.1,150.1 L245.6,150.7 L244.1,151.3 L242.6,151.9 L241.2,152.6 L239.7,153.3 L238.3,154.0 L236.8,154.7 L235.4,155.4 L234.0,156.1 L232.5,156.9 L231.1,157.6 L229.7,158.4 L228.3,159.2 L226.9,160.0 L225.5,160.8 L224.1,161.6 L222.8,162.4 L221.4,163.3 L220.0,164.1 L218.7,165.0 L217.3,165.9 L216.0,166.8 L214.6,167.7 L213.3,168.6 L212.0,169.5 L210.7,170.4 L209.4,171.4 L208.1,172.3 L206.8,173.3 L205.5,174.3 L204.3,175.3 L203.0,176.3 L201.7,177.3 L200.5,178.3 L199.3,179.3 L198.0,180.4 L196.8,181.4 L195.6,182.5 L194.4,183.6 L193.2,184.7 L192.0,185.8 L190.8,186.9 L189.7,188.0 L188.5,189.1 L187.3,190.3 L186.2,191.4 L185.0,192.6 L183.9,193.7 L182.8,194.9 L181.7,196.1 L180.6,197.3 L179.5,198.5 L178.4,199.7 L177.3,201.0 L176.2,202.2 L175.2,203.4 L174.1,204.7 L173.0,205.9 L172.0,207.2 L171.0,208.5 L169.9,209.8 L168.9,211.1 L167.9,212.4 L166.9,213.7 L165.9,215.0 L164.9,216.3 L163.9,217.7 L162.9,219.0 L162.0,220.4 L161.0,221.7 L160.1,223.1 L159.1,224.5 L158.2,225.8 L157.3,227.2 L156.3,228.6 L155.4,230.0 L154.5,231.4 L153.6,232.8 L152.7,234.3 L151.8,235.7 L150.9,237.1 L150.1,238.6 L149.2,240.0 L148.4,241.5 L147.5,242.9 L146.7,244.4 L145.8,245.8 L145.0,247.3 L144.2,248.8 L143.4,250.3 L142.5,251.8 L141.7,253.3 L141.0,254.8 L140.2,256.3 L139.4,257.8 L138.6,259.3 L137.8,260.8 L137.1,262.3 L136.3,263.8 L135.6,265.4 L134.8,266.9 L134.1,268.4 L133.4,270.0 L132.7,271.5 L132.0,273.1 L131.3,274.6 L130.6,276.2 L129.9,277.7 L129.2,279.3 L128.5,280.9 L127.8,282.4 L127.2,284.0 L126.5,285.6 L125.8,287.1 L125.2,288.7 L124.6,290.3 L123.9,291.9 L123.3,293.5 L122.7,295.1 L122.1,296.6 L121.4,298.2 L120.8,299.8 L120.2,301.4 L119.7,303.0 L119.1,304.6 L118.5,306.2 L117.9,307.8 L117.4,309.4 L116.8,311.0 L116.2,312.6 L115.7,314.2 L115.2,315.8 L114.6,317.4 L114.1,319.0 L113.6,320.6 L113.0,322.2 L112.5,323.8 L112.0,325.4 L111.5,327.0 L111.0,328.6 L110.5,330.2 L110.1,331.8 L109.6,333.4 L109.1,335.0 L108.6,336.6 L108.2,338.2 L107.7,339.8 L107.3,341.4 L106.8,343.0 L106.4,344.6 L106.0,346.2 L105.5,347.8 L105.1,349.4 L104.7,351.0 L104.3,352.5 L103.9,354.1 L103.5,355.7 L103.1,357.3 L102.7,358.9 L102.3,360.4 L101.9,362.0 L101.5,363.6 L101.2,365.1 L100.8,366.7 L100.4,368.2 L100.1,369.8 L99.7,371.4 L99.4,372.9 L99.1,374.4 L98.7,376.0 L98.0,379.3 Z" fill="#d9b03a"/>
<linearGradient id="g1" gradientUnits="userSpaceOnUse" x1="111.7" y1="307.7" x2="113.5" y2="299.6"><stop offset="0" stop-color="#7b953c" stop-opacity="0.3"/><stop offset="1" stop-color="#7b953c" stop-opacity="1"/></linearGradient><path d="M111.7,307.7 L111.8,307.0 L112.0,306.3 L112.1,305.7 L112.3,305.0 L112.5,304.3 L112.6,303.6 L112.8,303.0 L112.9,302.3 L113.1,301.6 L113.2,300.9 L113.3,300.2 L113.5,299.6" fill="none" stroke="url(#g1)" stroke-width="2.5"/><path d="M113.5,299.6 L113.8,298.2 L114.0,296.9 L114.3,295.5 L114.5,294.1 L114.7,292.8 L115.0,291.4 L115.2,290.0 L115.4,288.7 L115.5,287.3 L115.7,285.9 L115.9,284.5 L116.0,283.2 L116.1,281.8 L116.2,280.4 L116.3,279.0 L116.4,277.6 L116.5,276.2 L116.5,274.8 L116.5,273.4 L116.5,272.0 L116.5,270.6 L116.5,270.6" fill="none" stroke="#7b953c" stroke-width="2.5" stroke-linejoin="round"/><path d="M116.5,260.6 L120.9,271.6 L112.1,271.6 Z" fill="#7b953c"/>
<path d="M94.8,378.6 L95.2,376.3 L95.7,374.1 L96.2,371.9 L96.6,369.7 L97.2,367.5 L97.7,365.3 L98.2,363.1 L98.8,360.9 L99.3,358.7 L99.9,356.5 L100.5,354.3 L101.1,352.1 L101.7,349.9 L102.3,347.7 L102.9,345.5 L103.5,343.4 L104.1,341.2 L104.8,339.0 L105.4,336.8 L106.1,334.6 L106.7,332.5 L107.4,330.3 L108.0,328.1 L108.7,326.0 L109.4,323.8 L110.1,321.6 L110.7,319.5 L111.4,317.3 L112.1,315.1 L112.8,313.0 L113.5,310.8 L114.1,308.6 L114.8,306.5 L115.5,304.3 L116.2,302.1 L116.8,300.0 L117.5,297.8 L118.2,295.6 L118.8,293.5 L119.5,291.3 L120.1,289.1 L120.8,286.9 L121.4,284.8 L122.1,282.6 L122.7,280.4 L123.3,278.2 L123.9,276.1 L124.5,273.9 L124.8,272.8" fill="none" stroke="#7b953c" stroke-width="1.4" stroke-opacity="0.4"/><linearGradient id="g2" gradientUnits="userSpaceOnUse" x1="122.1" y1="282.6" x2="125.7" y2="269.5"><stop offset="0" stop-color="#7b953c" stop-opacity="0.4"/><stop offset="1" stop-color="#7b953c" stop-opacity="1"/></linearGradient><path d="M122.1,282.6 L122.4,281.5 L122.7,280.4 L123.0,279.3 L123.3,278.2 L123.6,277.1 L123.9,276.1 L124.2,275.0 L124.5,273.9 L124.8,272.8 L125.1,271.7 L125.4,270.6 L125.7,269.5" fill="none" stroke="url(#g2)" stroke-width="2.5"/><path d="M125.7,269.5 L126.2,267.3 L126.8,265.1 L127.4,262.9 L127.9,260.7 L128.4,258.5 L128.9,256.3 L129.4,254.1 L129.9,251.9 L130.4,249.7 L130.8,247.5 L131.3,245.2 L131.7,243.0 L132.1,240.8 L132.5,238.6 L132.8,236.3 L133.2,234.1 L133.5,231.8 L133.8,229.6 L134.1,227.3 L134.4,225.1 L134.6,222.8 L134.9,220.5 L135.1,218.2 L135.3,216.0 L135.4,213.7 L135.6,211.4 L135.7,209.1 L135.8,206.8 L135.8,204.5 L135.8,203.3" fill="none" stroke="#7b953c" stroke-width="2.5" stroke-linejoin="round"/><path d="M137.4,193.5 L140.4,205.0 L131.7,203.9 Z" fill="#7b953c"/>
<linearGradient id="g3" gradientUnits="userSpaceOnUse" x1="138.6" y1="247.4" x2="147.1" y2="229.7"><stop offset="0" stop-color="#7b953c" stop-opacity="0.3"/><stop offset="1" stop-color="#7b953c" stop-opacity="1"/></linearGradient><path d="M138.6,247.4 L139.3,246.0 L140.0,244.5 L140.7,243.0 L141.4,241.5 L142.1,240.1 L142.8,238.6 L143.6,237.1 L144.3,235.6 L145.0,234.2 L145.7,232.7 L146.4,231.2 L147.1,229.7" fill="none" stroke="url(#g3)" stroke-width="2.5"/><path d="M147.1,229.7 L148.5,226.8 L150.0,223.8 L151.4,220.9 L152.8,217.9 L154.2,215.0 L155.7,212.0 L157.1,209.1 L158.5,206.1 L159.9,203.2 L161.2,200.2 L162.6,197.2 L164.0,194.3 L165.4,191.3 L166.7,188.3 L168.0,185.3 L169.4,182.4 L170.7,179.4 L172.0,176.4 L173.3,173.4 L174.5,170.4 L175.8,167.4 L177.0,164.3 L178.2,161.3 L179.4,158.3 L180.6,155.2 L181.7,152.2 L182.9,149.1 L184.0,146.1 L185.1,143.0 L186.1,139.9 L187.2,136.8 L187.2,136.8" fill="none" stroke="#7b953c" stroke-width="2.5" stroke-linejoin="round"/><path d="M190.0,127.2 L190.4,139.0 L182.2,136.1 Z" fill="#7b953c"/>
<path d="M92.8,377.8 L94.1,372.8 L95.3,367.7 L96.6,362.5 L97.9,357.4 L99.3,352.3 L100.6,347.1 L102.1,342.0 L103.5,336.8 L105.0,331.6 L106.5,326.5 L108.1,321.3 L109.7,316.2 L111.4,311.1 L113.1,305.9 L114.9,300.8 L116.7,295.7 L118.6,290.7 L120.5,285.6 L122.6,280.6 L124.6,275.6 L126.8,270.7 L129.0,265.8 L131.2,260.9 L133.6,256.1 L136.0,251.3 L138.5,246.5 L141.1,241.8 L143.7,237.1 L146.5,232.5 L149.3,228.0 L152.2,223.5 L155.2,219.1 L158.3,214.7 L161.5,210.4 L164.8,206.2 L168.2,202.1 L171.7,198.0 L175.2,194.0 L178.8,190.0 L182.6,186.2 L186.4,182.4 L190.3,178.8 L194.2,175.2 L198.3,171.7 L202.4,168.3 L206.6,165.0 L210.9,161.8 L215.3,158.7 L219.7,155.7 L224.3,152.8 L228.8,150.0 L233.5,147.4 L238.2,144.8 L240.6,143.6" fill="none" stroke="#7b953c" stroke-width="2.2" stroke-opacity="0.66"/><linearGradient id="g4" gradientUnits="userSpaceOnUse" x1="219.7" y1="155.7" x2="247.8" y2="140.0"><stop offset="0" stop-color="#7b953c" stop-opacity="0.66"/><stop offset="1" stop-color="#7b953c" stop-opacity="1"/></linearGradient><path d="M219.7,155.7 L222.0,154.3 L224.3,152.8 L226.5,151.4 L228.8,150.0 L231.2,148.7 L233.5,147.4 L235.8,146.1 L238.2,144.8 L240.6,143.6 L243.0,142.4 L245.4,141.2 L247.8,140.0" fill="none" stroke="url(#g4)" stroke-width="2.5"/><path d="M247.8,140.0 L252.7,137.7 L257.6,135.5 L262.6,133.3 L267.5,131.2 L272.5,129.1 L277.5,127.0 L282.5,124.9 L287.5,122.9 L292.5,120.8 L297.4,118.7 L302.4,116.7 L307.4,114.7 L312.3,112.7 L317.3,110.7 L322.3,108.8 L327.3,106.9 L332.3,105.1 L337.4,103.3 L342.4,101.6 L347.5,99.9 L352.6,98.3 L357.7,96.8 L362.9,95.4 L368.1,94.0 L370.7,93.4" fill="none" stroke="#7b953c" stroke-width="2.5" stroke-linejoin="round"/><path d="M380.6,91.5 L370.8,98.2 L368.9,89.4 Z" fill="#7b953c"/>
<path d="M346.2,125.7 L349.6,125.8 L353.1,125.9 L356.5,126.0 L360.0,126.1 L363.5,126.2 L366.9,126.3 L370.4,126.4 L373.8,126.6 L377.3,126.7 L380.7,126.9 L384.2,127.1 L387.6,127.3 L391.1,127.5 L394.5,127.7 L398.0,127.9 L401.4,128.2 L404.9,128.4 L408.3,128.7 L408.3,128.7" fill="none" stroke="#7b953c" stroke-width="2.0" stroke-opacity="0.62"/><linearGradient id="g5" gradientUnits="userSpaceOnUse" x1="392.8" y1="127.6" x2="413.5" y2="129.1"><stop offset="0" stop-color="#7b953c" stop-opacity="0.62"/><stop offset="1" stop-color="#7b953c" stop-opacity="1"/></linearGradient><path d="M392.8,127.6 L394.5,127.7 L396.3,127.8 L398.0,127.9 L399.7,128.1 L401.4,128.2 L403.2,128.3 L404.9,128.4 L406.6,128.6 L408.3,128.7 L410.1,128.8 L411.8,129.0 L413.5,129.1" fill="none" stroke="url(#g5)" stroke-width="2.5"/><path d="M413.5,129.1 L417.0,129.4 L420.4,129.7 L423.9,130.0 L427.3,130.3 L430.7,130.7 L434.2,131.0 L437.6,131.4 L441.1,131.7 L444.5,132.1 L447.9,132.5 L451.4,132.9 L454.8,133.2 L458.2,133.7 L461.7,134.1 L465.1,134.5 L468.6,134.9 L472.0,135.4 L475.4,135.8 L478.8,136.3 L482.3,136.7 L485.7,137.2 L489.1,137.7 L492.6,138.1 L496.0,138.6 L499.4,139.1 L502.8,139.6 L506.3,140.1 L509.7,140.7 L513.1,141.2 L516.5,141.7 L519.9,142.3 L523.4,142.8 L526.8,143.3 L530.2,143.9 L533.6,144.5 L537.0,145.0 L540.4,145.6 L543.9,146.2 L547.3,146.8 L550.7,147.3 L554.1,147.9 L557.5,148.5 L560.9,149.1 L564.3,149.7 L567.7,150.3 L571.1,151.0 L574.5,151.6 L577.9,152.2 L581.3,152.8 L584.7,153.4 L588.1,154.1 L591.5,154.7 L594.9,155.3 L598.3,156.0 L601.7,156.6 L605.1,157.3 L608.5,157.9 L611.9,158.6 L615.3,159.2 L618.7,159.9 L618.7,159.9" fill="none" stroke="#7b953c" stroke-width="2.5" stroke-linejoin="round"/><path d="M628.5,161.9 L616.8,164.2 L618.6,155.3 Z" fill="#7b953c"/>
<linearGradient id="g6" gradientUnits="userSpaceOnUse" x1="104.5" y1="355.6" x2="107.7" y2="349.9"><stop offset="0" stop-color="#982838" stop-opacity="0.3"/><stop offset="1" stop-color="#982838" stop-opacity="1"/></linearGradient><path d="M104.5,355.6 L104.7,355.1 L104.9,354.6 L105.1,354.1 L105.4,353.6 L105.7,353.1 L105.9,352.6 L106.2,352.1 L106.5,351.7 L106.8,351.2 L107.0,350.8 L107.4,350.3 L107.7,349.9" fill="none" stroke="url(#g6)" stroke-width="2.5"/><path d="M107.7,349.9 L108.3,349.1 L109.0,348.3 L109.7,347.5 L110.5,346.8 L111.3,346.2 L112.1,345.5 L113.0,345.0 L113.9,344.4 L114.8,343.9 L115.8,343.5 L116.7,343.1 L117.7,342.8 L118.7,342.5 L119.7,342.3 L120.7,342.1 L121.7,342.0 L122.7,341.9 L123.8,341.9 L124.8,342.0 L125.8,342.1 L126.8,342.3 L127.9,342.5 L128.9,342.8 L129.9,343.1 L130.9,343.5 L131.9,343.9 L132.8,344.3 L133.8,344.8 L134.8,345.4 L135.7,346.0 L136.6,346.6 L137.5,347.2 L138.4,347.9 L139.3,348.6 L140.1,349.4 L141.0,350.1 L141.8,350.9 L142.6,351.7 L143.3,352.6 L144.0,353.4 L144.7,354.3 L145.4,355.2 L146.0,356.1 L146.7,357.0 L147.2,357.9 L147.8,358.8 L148.3,359.8 L148.7,360.7 L149.2,361.7 L149.6,362.6 L149.9,363.5 L149.9,363.5" fill="none" stroke="#982838" stroke-width="2.5" stroke-linejoin="round"/><path d="M155.6,371.2 L145.8,365.2 L153.6,359.9 Z" fill="#b32a30"/>
<linearGradient id="g7" gradientUnits="userSpaceOnUse" x1="114.1" y1="321.4" x2="119.6" y2="311.5"><stop offset="0" stop-color="#982838" stop-opacity="0.3"/><stop offset="1" stop-color="#982838" stop-opacity="1"/></linearGradient><path d="M114.1,321.4 L114.5,320.5 L114.9,319.7 L115.3,318.8 L115.8,317.9 L116.2,317.1 L116.7,316.3 L117.1,315.4 L117.6,314.6 L118.1,313.8 L118.6,313.1 L119.1,312.3 L119.6,311.5" fill="none" stroke="url(#g7)" stroke-width="2.5"/><path d="M119.6,311.5 L120.7,310.1 L121.9,308.7 L123.1,307.3 L124.4,306.1 L125.8,304.9 L127.2,303.8 L128.6,302.8 L130.2,301.8 L131.8,300.9 L133.4,300.2 L135.1,299.5 L136.8,298.8 L138.6,298.3 L140.3,297.8 L142.2,297.5 L144.0,297.2 L145.9,296.9 L147.8,296.8 L149.6,296.7 L151.5,296.8 L153.5,296.9 L155.4,297.1 L157.3,297.3 L159.1,297.7 L161.0,298.1 L162.9,298.6 L164.7,299.2 L166.6,299.9 L168.4,300.6 L170.1,301.4 L171.9,302.3 L173.6,303.2 L175.3,304.2 L176.9,305.2 L178.5,306.3 L180.1,307.4 L181.6,308.5 L183.1,309.7 L184.5,310.9 L185.9,312.2 L187.2,313.4 L188.5,314.7 L188.5,314.7" fill="none" stroke="#982838" stroke-width="2.5" stroke-linejoin="round"/><path d="M196.0,320.6 L184.9,317.4 L191.1,310.2 Z" fill="#b32a30"/>
<linearGradient id="g8" gradientUnits="userSpaceOnUse" x1="137.0" y1="264.0" x2="147.5" y2="248.9"><stop offset="0" stop-color="#982838" stop-opacity="0.3"/><stop offset="1" stop-color="#982838" stop-opacity="1"/></linearGradient><path d="M137.0,264.0 L137.8,262.7 L138.6,261.3 L139.4,259.9 L140.2,258.6 L141.1,257.3 L141.9,256.0 L142.8,254.8 L143.7,253.5 L144.6,252.3 L145.6,251.1 L146.6,250.0 L147.5,248.9" fill="none" stroke="url(#g8)" stroke-width="2.5"/><path d="M147.5,248.9 L149.6,246.7 L151.8,244.7 L154.1,242.9 L156.6,241.3 L159.1,239.8 L161.9,238.5 L164.7,237.4 L167.6,236.5 L170.6,235.7 L173.7,235.1 L176.8,234.7 L180.0,234.3 L183.3,234.1 L186.5,234.0 L189.7,234.0 L193.0,234.1 L196.2,234.3 L199.4,234.6 L202.6,235.0 L205.7,235.5 L208.8,236.0 L211.9,236.7 L215.0,237.4 L218.0,238.3 L220.9,239.2 L223.9,240.2 L226.7,241.4 L229.6,242.6 L232.4,243.9 L235.1,245.3 L237.7,246.9 L240.3,248.5 L242.9,250.2 L245.4,252.0 L246.6,253.0" fill="none" stroke="#982838" stroke-width="2.5" stroke-linejoin="round"/><path d="M253.8,259.4 L242.7,256.1 L249.0,248.9 Z" fill="#b32a30"/>
<linearGradient id="g9" gradientUnits="userSpaceOnUse" x1="164.9" y1="216.8" x2="182.3" y2="199.9"><stop offset="0" stop-color="#982838" stop-opacity="0.3"/><stop offset="1" stop-color="#982838" stop-opacity="1"/></linearGradient><path d="M164.9,216.8 L166.2,215.2 L167.5,213.6 L168.9,212.1 L170.3,210.6 L171.7,209.1 L173.1,207.7 L174.6,206.3 L176.1,204.9 L177.6,203.6 L179.1,202.3 L180.7,201.1 L182.3,199.9" fill="none" stroke="url(#g9)" stroke-width="2.5"/><path d="M182.3,199.9 L185.6,197.6 L189.0,195.5 L192.6,193.6 L196.2,191.9 L200.0,190.4 L203.8,189.2 L207.8,188.2 L211.8,187.3 L215.8,186.6 L220.0,186.1 L224.1,185.7 L228.3,185.5 L232.5,185.4 L236.7,185.5 L240.8,185.7 L245.0,186.0 L249.2,186.5 L253.3,187.1 L257.4,187.9 L261.5,188.7 L265.5,189.8 L269.4,190.9 L273.3,192.2 L277.1,193.6 L280.8,195.1 L284.4,196.9 L288.0,198.8 L291.4,201.0 L294.7,203.4 L297.9,206.0 L299.5,207.4" fill="none" stroke="#982838" stroke-width="2.5" stroke-linejoin="round"/><path d="M306.0,214.4 L295.4,210.0 L302.3,203.5 Z" fill="#b32a30"/>
<path d="M98.5,379.5 L99.8,373.5 L101.2,367.5 L102.6,361.6 L104.0,355.6 L105.5,349.8 L107.1,343.9 L108.8,338.1 L110.5,332.3 L112.3,326.5 L114.1,320.7 L116.1,315.0 L118.0,309.3 L120.1,303.7 L122.3,298.0 L124.5,292.4 L126.8,286.8 L129.2,281.2 L131.7,275.7 L134.3,270.2 L136.9,264.7 L139.7,259.2 L142.5,253.8 L145.4,248.5 L148.5,243.2 L151.6,237.9 L154.9,232.7 L158.2,227.6 L161.7,222.6 L165.3,217.7 L169.0,212.9 L172.8,208.2 L176.7,203.6 L180.8,199.1 L185.0,194.7 L189.3,190.5 L193.7,186.4 L198.3,182.4 L203.0,178.7 L207.9,175.0 L212.9,171.6 L218.0,168.4 L223.2,165.3 L228.5,162.5 L233.9,159.9 L239.5,157.5 L239.5,157.5" fill="none" stroke="#982838" stroke-width="2.2" stroke-opacity="0.55"/><linearGradient id="g10" gradientUnits="userSpaceOnUse" x1="215.4" y1="170.0" x2="247.9" y2="154.4"><stop offset="0" stop-color="#982838" stop-opacity="0.55"/><stop offset="1" stop-color="#982838" stop-opacity="1"/></linearGradient><path d="M215.4,170.0 L218.0,168.4 L220.6,166.8 L223.2,165.3 L225.8,163.9 L228.5,162.5 L231.2,161.1 L233.9,159.9 L236.7,158.7 L239.5,157.5 L242.3,156.4 L245.1,155.4 L247.9,154.4" fill="none" stroke="url(#g10)" stroke-width="2.5"/><path d="M247.9,154.4 L253.7,152.6 L259.5,151.1 L265.5,149.9 L271.4,148.8 L277.4,148.0 L283.5,147.3 L289.6,146.9 L295.7,146.7 L301.9,146.6 L308.0,146.7 L314.1,146.9 L320.3,147.3 L326.4,147.9 L332.5,148.6 L338.5,149.5 L344.5,150.6 L350.5,151.9 L356.3,153.3 L362.1,155.0 L367.8,156.9 L373.4,159.0 L378.9,161.3 L384.3,163.9 L389.5,166.7 L394.6,169.8 L399.6,173.1 L404.4,176.7 L409.0,180.6 L413.5,184.8 L417.8,189.2 L421.9,193.9 L425.7,199.0 L429.4,204.3 L429.4,204.3" fill="none" stroke="#982838" stroke-width="2.5" stroke-linejoin="round"/><path d="M434.2,212.0 L424.7,205.5 L432.8,200.6 Z" fill="#b32a30"/>
<path d="M95.8,378.8 L96.9,374.0 L97.5,370.9 L98.2,367.7 L99.0,364.6 L99.7,361.5 L100.5,358.3 L101.3,355.2 L102.1,352.0 L102.9,348.8 L103.8,345.6 L104.6,342.4 L105.5,339.2 L106.4,336.0 L107.4,332.8 L108.3,329.6 L109.3,326.3 L110.3,323.1 L111.4,319.9 L112.4,316.7 L113.5,313.5 L114.6,310.2 L115.7,307.0 L116.9,303.8 L118.1,300.6 L119.3,297.4 L120.5,294.2 L121.8,291.0 L123.0,287.8 L124.4,284.7 L125.7,281.5 L127.0,278.4 L128.4,275.2 L129.8,272.1 L131.3,269.0 L132.7,265.9 L134.2,262.8 L135.8,259.7 L137.3,256.7 L138.9,253.7 L140.5,250.6 L142.1,247.7 L143.8,244.7 L145.5,241.7 L147.2,238.8 L148.9,235.9 L150.7,233.0 L152.5,230.2 L154.3,227.3 L156.2,224.5 L158.1,221.7 L160.0,219.0 L162.0,216.3 L164.0,213.6 L166.0,210.9 L168.1,208.3 L170.1,205.7 L172.3,203.2 L174.4,200.6 L176.6,198.1 L178.8,195.7 L181.0,193.3 L183.3,190.9 L185.6,188.6 L188.0,186.3 L190.4,184.0 L192.8,181.8 L195.2,179.6 L197.7,177.5 L200.2,175.4 L202.8,173.4 L205.3,171.4 L208.0,169.4 L210.6,167.5 L213.3,165.6 L216.0,163.8 L218.7,162.1 L221.5,160.3 L224.3,158.7 L227.1,157.0 L229.9,155.5 L232.8,153.9 L235.7,152.5 L238.6,151.1 L241.6,149.7 L244.6,148.4 L247.6,147.2 L250.6,146.0 L253.6,144.9 L256.7,143.9 L259.7,142.9 L262.8,141.9 L266.0,140.9 L269.1,140.0 L272.2,139.1 L275.4,138.1 L278.6,137.2 L281.8,136.3 L285.0,135.4 L288.2,134.5 L291.5,133.6 L294.7,132.7 L298.0,131.9 L301.3,131.2 L304.5,130.5 L307.8,129.9 L311.1,129.3 L314.4,128.8 L317.8,128.4 L321.1,128.0 L324.4,127.6 L327.8,127.4 L331.1,127.1 L334.4,126.9 L337.8,126.8 L341.1,126.7 L344.5,126.7 L347.8,126.6 L351.2,126.7 L354.5,126.7 L357.9,126.9 L361.3,127.0 L364.6,127.2 L368.0,127.4 L371.3,127.7 L374.7,128.0 L378.0,128.3 L381.4,128.7 L384.7,129.1 L388.1,129.6 L391.4,130.1 L394.7,130.6 L398.1,131.1 L401.4,131.7 L404.7,132.3 L408.0,133.0 L411.3,133.7 L414.6,134.4 L417.9,135.2 L421.2,136.0 L424.5,136.8 L427.8,137.6 L431.0,138.5 L434.3,139.4 L437.5,140.4 L440.7,141.3 L444.0,142.3 L447.2,143.3 L450.4,144.4 L453.6,145.5 L456.7,146.6 L459.9,147.7 L463.0,148.9 L466.2,150.1 L469.3,151.3 L472.4,152.5 L475.5,153.8 L478.6,155.1 L481.7,156.4 L484.7,157.7 L487.8,159.0 L490.8,160.4 L493.8,161.8 L496.8,163.2 L499.8,164.7 L502.8,166.1 L505.7,167.6 L508.7,169.1 L511.6,170.6 L514.6,172.2 L517.5,173.7 L520.4,175.3 L523.3,176.9 L526.2,178.6 L529.0,180.2 L531.9,181.9 L534.8,183.6 L537.6,185.3 L540.4,187.1 L543.2,188.9 L546.0,190.7 L548.8,192.5 L551.6,194.3 L554.4,196.1 L557.2,197.9 L559.9,199.7 L562.7,201.4 L565.4,203.2 L568.1,204.9 L570.8,206.7 L573.5,208.4 L576.2,210.2 L578.9,211.9 L581.6,213.7 L584.2,215.5 L586.9,217.3 L589.5,219.1 L592.2,220.9 L594.8,222.8 L597.4,224.6 L600.0,226.5" stroke="#3c1c08" stroke-width="1.75" fill="none"/>
<text class="bi" x="208" y="49.3" textLength="219" lengthAdjust="spacingAndGlyphs">Geborgenheit &amp; Gemeinschaft</text>
<text class="bi" x="454.5" y="64" textLength="144.5" lengthAdjust="spacingAndGlyphs">aktives Teilnehmen,</text>
<text class="bi" x="459" y="79" textLength="113" lengthAdjust="spacingAndGlyphs">Geben &amp; Helfen</text>
<text class="bi" x="56" y="80.3" textLength="56" lengthAdjust="spacingAndGlyphs">Bildung</text>
<text class="bi" x="51" y="95.8" textLength="76" lengthAdjust="spacingAndGlyphs">Bewegung</text>
<text class="bi" x="47" y="111" textLength="143" lengthAdjust="spacingAndGlyphs">gesunde Ernährung</text>
<text class="bi" x="293.5" y="241.5" textLength="43" lengthAdjust="spacingAndGlyphs">Sucht</text>
<text class="bi" x="280" y="257" textLength="96" lengthAdjust="spacingAndGlyphs">Schlafmangel</text>
<text class="bi" x="267.7" y="271.6" textLength="91" lengthAdjust="spacingAndGlyphs">übergewicht</text>
<text class="bi" x="398" y="230.3" textLength="114" lengthAdjust="spacingAndGlyphs">Arbeitslosigkeit</text>
<text class="bi" x="406" y="245.5" textLength="70" lengthAdjust="spacingAndGlyphs">Krankheit</text>
<text class="bi" x="414" y="276.4" textLength="117" lengthAdjust="spacingAndGlyphs">sozialer Abstieg</text>
<text class="bi" x="246" y="303" textLength="116" lengthAdjust="spacingAndGlyphs">geringe Bildung</text>
<text class="bi" x="233" y="318" textLength="134" lengthAdjust="spacingAndGlyphs">falsche Ernährung</text>
<text class="bi" x="426" y="310.3" textLength="104" lengthAdjust="spacingAndGlyphs">Vereinsamung</text>
<text class="bi" x="440" y="342" textLength="150" lengthAdjust="spacingAndGlyphs">Depression, Demenz</text>
<text class="bi" x="204" y="349" textLength="110" lengthAdjust="spacingAndGlyphs">Schulprobleme</text>
<text class="bi" x="450" y="373" textLength="27" lengthAdjust="spacingAndGlyphs">Tod</text>
<text class="bi" x="172" y="379" textLength="202" lengthAdjust="spacingAndGlyphs">Aufmerksamkeitsstörungen</text>
<text class="bi" x="151" y="413" textLength="223" lengthAdjust="spacingAndGlyphs">Sprachentwicklungsstörungen</text>
<text x="222.5" y="86.7" textLength="112.5" lengthAdjust="spacingAndGlyphs">Bindung, Familie</text>
<text x="227.3" y="102" textLength="103" lengthAdjust="spacingAndGlyphs">sinnvolle Arbeit</text>
<text x="482" y="111.7" textLength="122" lengthAdjust="spacingAndGlyphs">Enkel &amp; Ehrenamt</text>
<text x="461" y="127" textLength="163" lengthAdjust="spacingAndGlyphs">Tanzen, Singen, Lachen</text>
<text x="127" y="144.8" textLength="39" lengthAdjust="spacingAndGlyphs">Musik</text>
<text x="128" y="160.2" textLength="36" lengthAdjust="spacingAndGlyphs">Sport</text>
<text x="120" y="176" textLength="53" lengthAdjust="spacingAndGlyphs">Theater</text>
<text x="305" y="167" textLength="44" lengthAdjust="spacingAndGlyphs">Stress</text>
<text x="288" y="183" textLength="79" lengthAdjust="spacingAndGlyphs">Multitasking</text>
<text x="212" y="206" textLength="55" lengthAdjust="spacingAndGlyphs">dauernd</text>
<text x="221" y="222" textLength="40" lengthAdjust="spacingAndGlyphs">online</text>
<text x="76" y="214.5" textLength="31" lengthAdjust="spacingAndGlyphs">Welt</text>
<text x="52" y="230.6" textLength="76" lengthAdjust="spacingAndGlyphs">mit Händen</text>
<text x="56" y="246.6" textLength="69" lengthAdjust="spacingAndGlyphs">be-greifen</text>
<text x="158" y="257" textLength="73" lengthAdjust="spacingAndGlyphs">Computer-</text>
<text x="175" y="273" textLength="40" lengthAdjust="spacingAndGlyphs">spiele</text>
<text x="58" y="282" textLength="37" lengthAdjust="spacingAndGlyphs">Zwei-</text>
<text x="44" y="297.8" textLength="62" lengthAdjust="spacingAndGlyphs">sprachig-</text>
<text x="64" y="313" textLength="24" lengthAdjust="spacingAndGlyphs">keit</text>
<text x="129" y="318" textLength="45" lengthAdjust="spacingAndGlyphs">Spiele-</text>
<text x="122" y="333" textLength="61" lengthAdjust="spacingAndGlyphs">konsolen</text>
<text x="115" y="366" textLength="20" lengthAdjust="spacingAndGlyphs">TV</text>
<text x="108" y="382" textLength="33" lengthAdjust="spacingAndGlyphs">DVD</text>
<text x="107" y="397" textLength="39" lengthAdjust="spacingAndGlyphs">Video</text>
<text x="97" y="468" textLength="55" lengthAdjust="spacingAndGlyphs">Kindheit</text>
<text x="202" y="468" textLength="50" lengthAdjust="spacingAndGlyphs">Jugend</text>
<text x="335" y="468" textLength="39" lengthAdjust="spacingAndGlyphs">20-50</text>
<text x="452" y="468" textLength="30.6" lengthAdjust="spacingAndGlyphs">Alter</text>
<text x="529" y="468" textLength="76.6" lengthAdjust="spacingAndGlyphs">hohes Alter</text>
<text transform="translate(22.8,331.5) rotate(-90)" textLength="100" lengthAdjust="spacingAndGlyphs">Gehirn-Bildung</text>
</g></svg></body></html>
